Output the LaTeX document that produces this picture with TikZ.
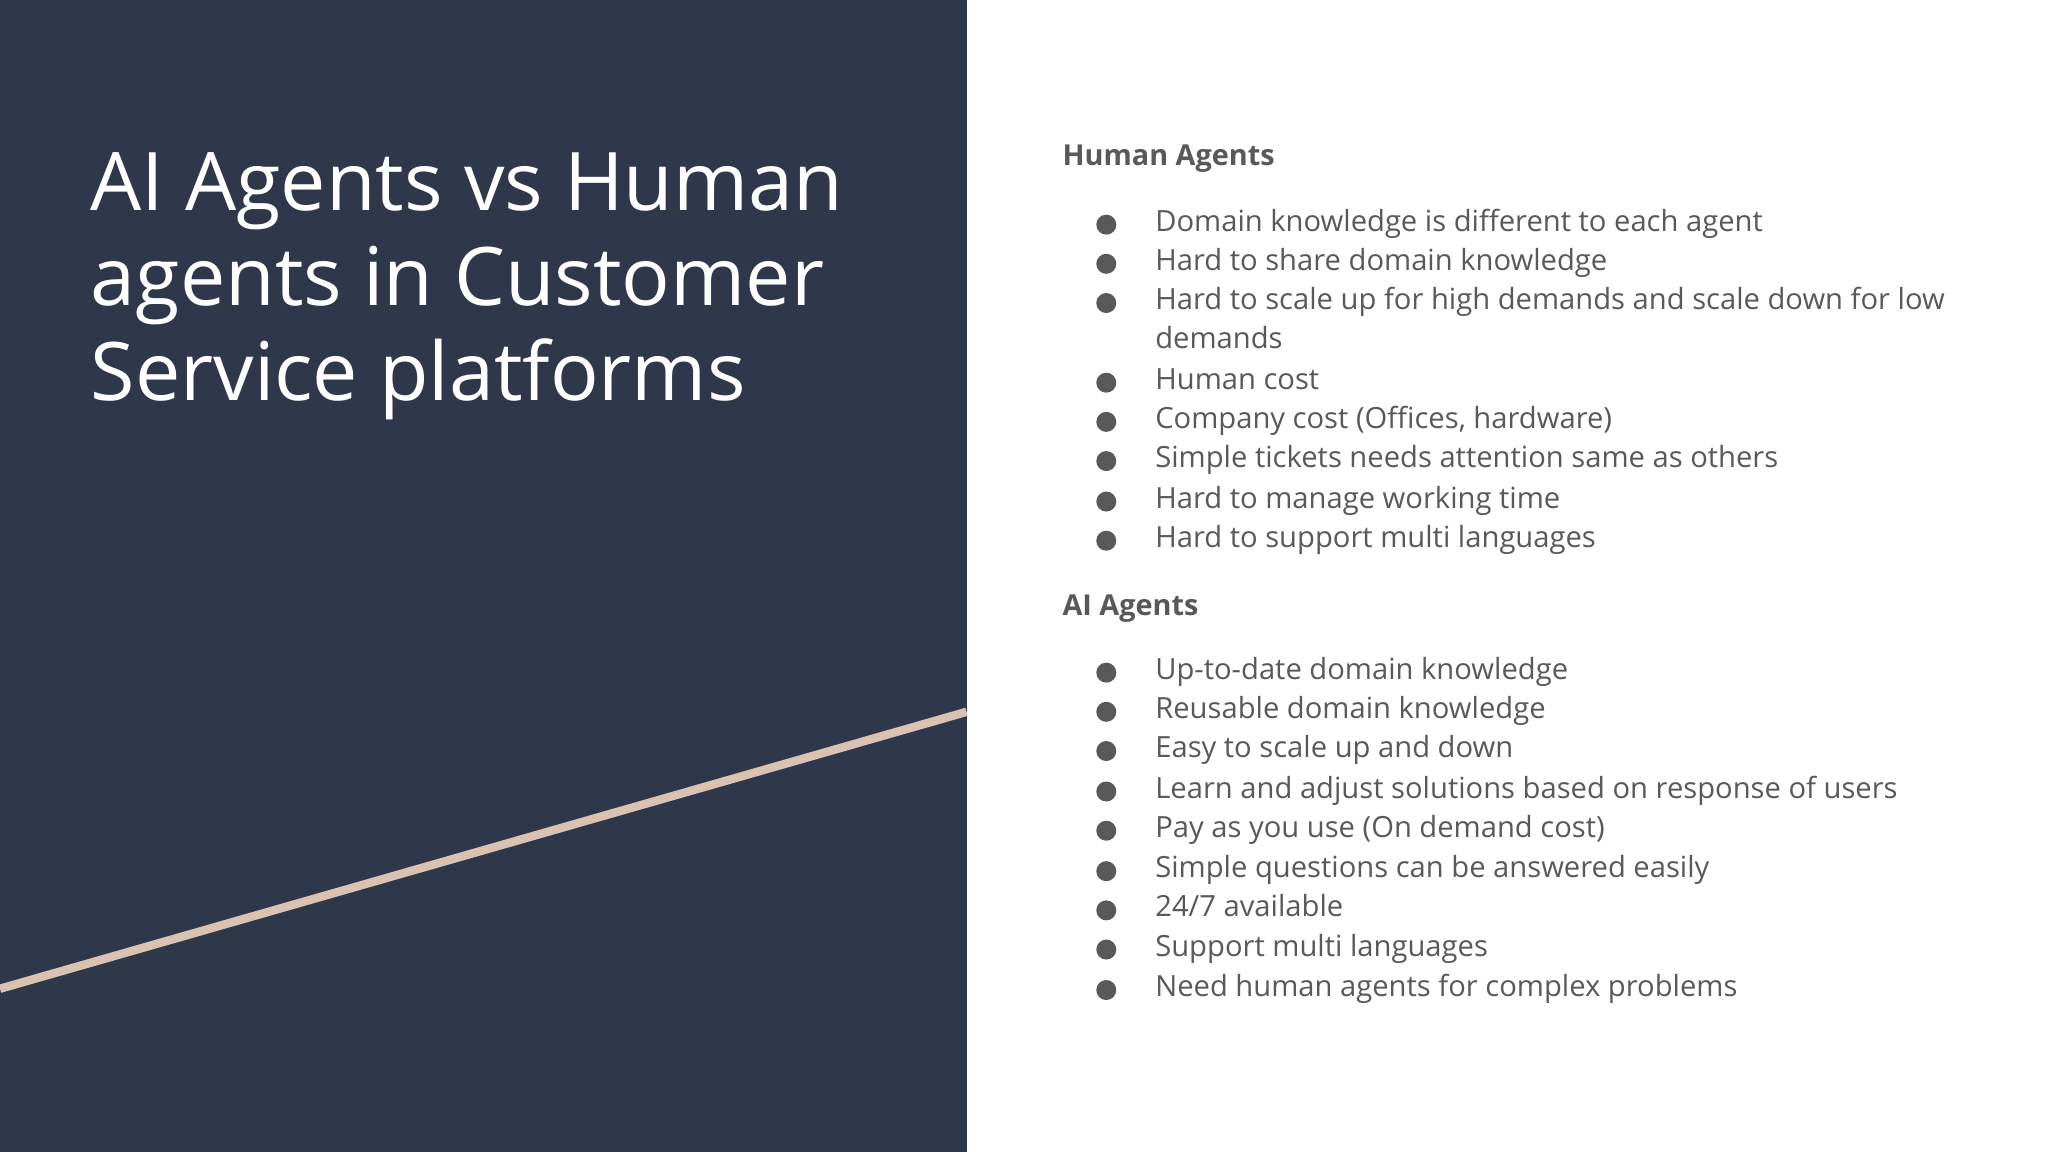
\documentclass[tikz,border=0pt]{standalone}
\usepackage{fontspec}
\setmainfont{Open Sans}
\definecolor{navy}{HTML}{2F374A}
\definecolor{tan}{HTML}{D9C3B0}
\definecolor{txt}{HTML}{595959}
\begin{document}
\begin{tikzpicture}[x=0.013061cm,y=-0.013061cm,
  item/.style={anchor=base west,inner sep=0,text=txt,font=\fontsize{8.3}{10}\selectfont},
  head/.style={anchor=base west,inner sep=0,text=txt,font=\fontsize{8.2}{10}\selectfont\bfseries},
  ttl/.style={anchor=base west,inner sep=0,text=white,font=\fontsize{23}{27}\selectfont},
  dot/.style={circle,fill=txt,inner sep=0,minimum size=0.2cm}]
\useasboundingbox (0,0) rectangle (1568,882);
\fill[white] (0,0) rectangle (1568,882);
\fill[navy] (0,0) rectangle (740,882);
\coordinate (l1) at (0,757); \coordinate (l2) at (740,545);
\draw[tan,line width=2.4pt] (l1) -- (l2);
\node[ttl] (t1) at (69,161) {AI Agents vs Human};
\node[ttl] (t2) at (69,234) {agents in Customer};
\node[ttl] (t3) at (69,307) {Service platforms};
\node[head] (h1) at (813,127) {Human Agents};
\foreach \t/\y [count=\i] in {Domain knowledge is different to each agent/177,Hard to share domain knowledge/207,Hard to scale up for high demands and scale down for low/237,Human cost/298,{Company cost (Offices, hardware)}/328,Simple tickets needs attention same as others/358,Hard to manage working time/389,Hard to support multi languages/419}{
  \node[dot] (hd\i) at (847,\y-5) {};
  \node[item] (ht\i) at (884,\y) {\t};
}
\node[item] (hwrap) at (884,267) {demands};
\node[head] (h2) at (813,471) {AI Agents};
\foreach \t/\y [count=\i] in {Up-to-date domain knowledge/520,Reusable domain knowledge/550,Easy to scale up and down/580,Learn and adjust solutions based on response of users/611,Pay as you use (On demand cost)/641,Simple questions can be answered easily/672,{24\slash 7 available}/702,Support multi languages/732,Need human agents for complex problems/763}{
  \node[dot] (ad\i) at (847,\y-5) {};
  \node[item] (at\i) at (884,\y) {\t};
}
\end{tikzpicture}
\end{document}
